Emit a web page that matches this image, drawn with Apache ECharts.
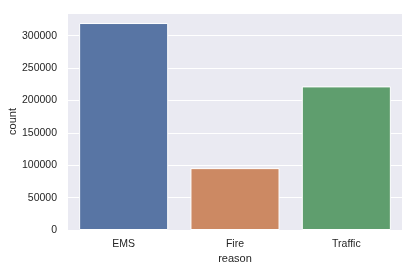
<!DOCTYPE html>
<html><head><meta charset="utf-8">
<script src="https://cdn.jsdelivr.net/npm/echarts@6/dist/echarts.min.js"></script>
<style>html,body{margin:0;padding:0;background:#fff}#c{width:415px;height:271px}</style>
</head><body><div id="c"></div>
<script>
const categories = ['EMS', 'Fire', 'Traffic'];
const counts = [319500, 95500, 221700];
const barColors = ['#5875a4', '#cc8963', '#5f9e6e'];
const yTicks = [0, 50000, 100000, 150000, 200000, 250000, 300000];

const chart = echarts.init(document.getElementById('c'), null, {renderer: 'canvas'});
const font = '"Liberation Sans", Arial, sans-serif';
chart.setOption({
  animation: false,
  grid: {left: 68, right: 13, top: 13, bottom: 41, backgroundColor: '#eaeaf2', show: true, borderWidth: 0,
    containLabel: false, outerBoundsMode: 'none'},
  xAxis: {
    type: 'category', data: categories,
    name: 'reason', nameLocation: 'middle', nameGap: 23, nameMoveOverlap: false,
    nameTextStyle: {color: '#262626', fontSize: 11, fontFamily: font},
    axisLine: {show: false}, axisTick: {show: false},
    axisLabel: {color: '#262626', fontSize: 10.5, fontFamily: font, margin: 9},
    splitLine: {show: false}
  },
  yAxis: {
    type: 'value', min: 0, max: 335000, interval: 50000,
    name: 'count', nameLocation: 'middle', nameGap: 50, nameMoveOverlap: false,
    nameTextStyle: {color: '#262626', fontSize: 11, fontFamily: font},
    axisLine: {show: false}, axisTick: {show: false},
    axisLabel: {color: '#262626', fontSize: 10.5, fontFamily: font, margin: 11,
      formatter: v => yTicks.includes(v) ? String(v) : ''},
    splitLine: {show: true, lineStyle: {color: '#ffffff', width: 1}}
  },
  series: [{
    type: 'bar', barWidth: '80%',
    data: counts.map((v, i) => ({value: v, itemStyle: {color: barColors[i]}})),
    itemStyle: {borderColor: '#ffffff', borderWidth: 1}
  }]
});
</script></body></html>
